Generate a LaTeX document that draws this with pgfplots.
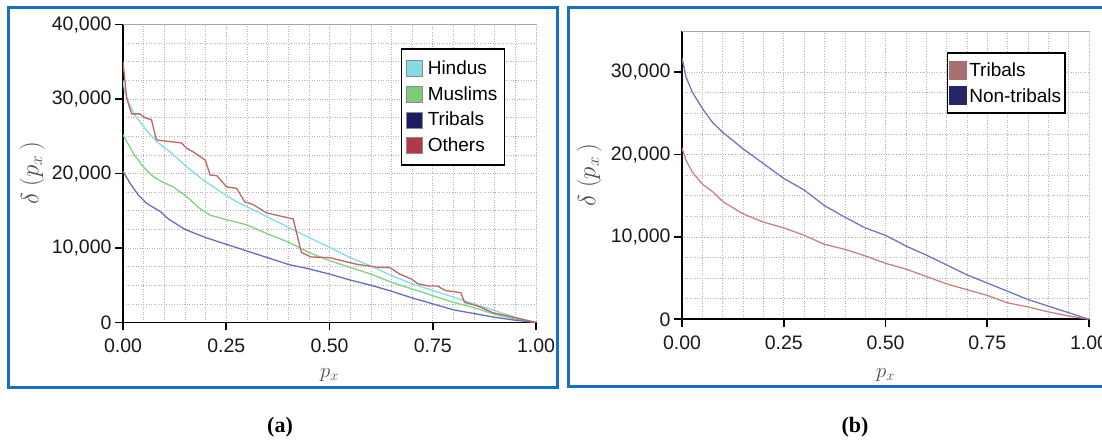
\documentclass[border=0pt]{standalone}
\usepackage{fontspec}
\setmainfont{Liberation Sans}
\newfontfamily\capfont{Liberation Serif}
\usepackage{pgfplots}
\usepackage{pgfplotstable}
\pgfplotsset{compat=1.18}

\definecolor{framecol}{RGB}{22,112,200}
\definecolor{hinduline}{RGB}{128,222,232}
\definecolor{hinduswatch}{RGB}{130,220,225}
\definecolor{muslimline}{RGB}{128,210,128}
\definecolor{muslimswatch}{RGB}{120,204,122}
\definecolor{tribline}{RGB}{106,106,196}
\definecolor{tribswatch}{RGB}{28,28,96}
\definecolor{otherline}{RGB}{192,100,100}
\definecolor{otherswatch}{RGB}{176,58,72}
\definecolor{rtribline}{RGB}{204,128,128}
\definecolor{rtribswatch}{RGB}{168,112,112}
\definecolor{nontribline}{RGB}{116,116,196}
\definecolor{nontribswatch}{RGB}{38,38,102}

% dominance curves, panel (a)
\pgfplotstableread{
p d
0 32500
0.004 31000
0.013 29600
0.029 27800
0.057 25800
0.081 24300
0.114 22900
0.154 20900
0.195 19100
0.235 17600
0.275 16200
0.316 15100
0.356 14000
0.40 12800
0.45 11400
0.50 10100
0.55 8700
0.60 7600
0.65 6300
0.70 5200
0.75 4300
0.80 3400
0.85 2500
0.90 1600
0.95 700
1.00 0
}\hindus
\pgfplotstableread{
p d
0 25200
0.025 22700
0.049 20900
0.073 19600
0.094 18900
0.122 18200
0.154 16900
0.186 15300
0.211 14400
0.251 13800
0.30 13100
0.35 11900
0.40 10800
0.45 9400
0.50 8300
0.55 7400
0.60 6500
0.65 5400
0.70 4500
0.75 3600
0.80 2700
0.85 2000
0.90 1100
0.95 450
1 0
}\muslims
\pgfplotstableread{
p d
0 20300
0.017 18700
0.037 17100
0.057 16000
0.09 14900
0.11 13900
0.15 12500
0.2 11400
0.25 10500
0.3 9600
0.35 8700
0.4 7800
0.45 7200
0.5 6500
0.55 5700
0.6 5000
0.65 4200
0.7 3300
0.75 2500
0.8 1700
0.85 1200
0.9 700
0.95 300
1 0
}\tribalsA
\pgfplotstableread{
p d
0 35000
0.009 30100
0.021 28000
0.041 28000
0.053 27500
0.069 27200
0.081 24500
0.142 24100
0.154 23400
0.170 22900
0.186 22300
0.199 21800
0.211 19800
0.227 19700
0.251 18200
0.275 18000
0.295 16200
0.316 15800
0.348 14700
0.380 14300
0.412 13900
0.432 9400
0.455 8800
0.50 8700
0.53 8300
0.567 7800
0.62 7400
0.645 7400
0.67 6500
0.70 5800
0.714 5200
0.74 4900
0.762 4900
0.78 4300
0.818 4000
0.827 2700
0.86 2200
0.896 1300
0.93 900
0.965 450
1 0
}\others
% dominance curves, panel (b)
\pgfplotstableread{
p d
0 20800
0.01 19300
0.025 17900
0.05 16400
0.075 15500
0.1 14300
0.15 12800
0.2 11800
0.25 11100
0.3 10200
0.35 9100
0.4 8500
0.45 7700
0.5 6800
0.55 6100
0.6 5200
0.65 4300
0.7 3600
0.75 2900
0.8 2000
0.85 1500
0.9 900
0.95 400
1 0
}\tribalsB
\pgfplotstableread{
p d
0 31700
0.01 29400
0.025 27600
0.05 25600
0.075 23900
0.1 22700
0.15 20700
0.2 18900
0.25 17100
0.3 15700
0.35 13800
0.4 12400
0.45 11100
0.5 10200
0.55 8900
0.6 7800
0.65 6600
0.7 5400
0.75 4400
0.8 3400
0.85 2400
0.9 1600
0.95 800
1 0
}\nontribals

\pgfplotsset{
  domplot/.style={
    scale only axis,
    anchor=south west,
    xmin=0, xmax=1, ymin=0,
    axis lines=left,
    axis line style={-, black, line width=1.7pt},
    xtick={0,0.25,0.5,0.75,1},
    minor x tick num=4,
    minor y tick num=3,
    grid=both,
    grid style={dotted, black!30, line width=0.55pt},
    minor grid style={dotted, black!30, line width=0.55pt},
    tick align=outside,
    major tick length=8pt,
    minor tick length=0pt,
    major tick style={black, line width=1.7pt},
    tick label style={font=\fontsize{19.5}{21}\selectfont, text=black!90},
    /pgf/number format/assume math mode=true,
    scaled y ticks=false,
    yticklabel style={/pgf/number format/1000 sep={,}},
    xticklabel style={yshift=-5pt, /pgf/number format/.cd, fixed, fixed zerofill, precision=2},
    xlabel={$p_x$},
    ylabel={$\delta\;(p_x\,)$},
    xlabel style={font=\fontsize{22}{24}\selectfont, text=black!70},
    ylabel style={font=\fontsize{24}{26}\selectfont, text=black!70},
    legend style={draw=black, line width=1.5pt, fill=white,
      font=\fontsize{19}{21}\selectfont, anchor=north west},
    legend cell align=left,
    every axis plot/.append style={line width=1.3pt, no markers},
  },
  swatch/.style={legend image code/.code={
    \draw[draw=black!45, line width=0.5pt, fill=#1] (0pt,-8pt) rectangle (16pt,8pt);}},
  bigswatch/.style={legend image code/.code={
    \draw[draw=none, fill=#1] (2pt,-9.5pt) rectangle (20pt,9.5pt);}},
}

\begin{document}
\begin{tikzpicture}[x=1pt, y=1pt]
% panel frames
\draw[framecol, line width=3pt] (8,55) rectangle (557,435);
\draw[framecol, line width=3pt] (568,56) rectangle (1110,435);

\begin{axis}[domplot,
  at={(123pt,120.5pt)}, width=413pt, height=298pt,
  ymax=40000, ytick={0,10000,20000,30000,40000},
  xlabel style={at={(axis description cs:0.5,-0.176)}, anchor=center},
  ylabel style={at={(axis description cs:-0.22,0.5)}, anchor=center},
  legend style={at={(axis description cs:0.672,0.92)},
    inner xsep=5pt, inner ysep=10pt, row sep=6.3pt,
    /tikz/every odd column/.append style={column sep=3pt}},
]
\draw[black!35, line width=0.8pt] (rel axis cs:0,1) -- (rel axis cs:1,1) -- (rel axis cs:1,0);
\addplot[hinduline, swatch=hinduswatch] table[x=p, y=d] {\hindus};
\addlegendentry{Hindus}
\addplot[muslimline, swatch=muslimswatch] table[x=p, y=d] {\muslims};
\addlegendentry{Muslims}
\addplot[tribline, swatch=tribswatch] table[x=p, y=d] {\tribalsA};
\addlegendentry{Tribals}
\addplot[otherline, swatch=otherswatch] table[x=p, y=d] {\others};
\addlegendentry{Others}
\end{axis}

\begin{axis}[domplot,
  at={(682pt,123.7pt)}, width=407pt, height=288.3pt,
  ymax=35000, ytick={0,10000,20000,30000},
  xlabel style={at={(axis description cs:0.5,-0.193)}, anchor=center},
  ylabel style={at={(axis description cs:-0.228,0.5)}, anchor=center},
  legend style={at={(axis description cs:0.65,0.926)},
    inner xsep=2pt, inner ysep=7.5pt, row sep=6.5pt},
]
\draw[black!35, line width=0.8pt] (rel axis cs:0,1) -- (rel axis cs:1,1) -- (rel axis cs:1,0);
\addplot[rtribline, bigswatch=rtribswatch] table[x=p, y=d] {\tribalsB};
\addlegendentry{Tribals}
\addplot[nontribline, bigswatch=nontribswatch] table[x=p, y=d] {\nontribals};
\addlegendentry{Non-tribals}
\end{axis}

\node[font=\capfont\bfseries\fontsize{22}{24}\selectfont] at (280,16) {(a)};
\node[font=\capfont\bfseries\fontsize{22}{24}\selectfont] at (855,16) {(b)};

\pgfresetboundingbox
\useasboundingbox (0,0) rectangle (1102,443);
\end{tikzpicture}
\end{document}
